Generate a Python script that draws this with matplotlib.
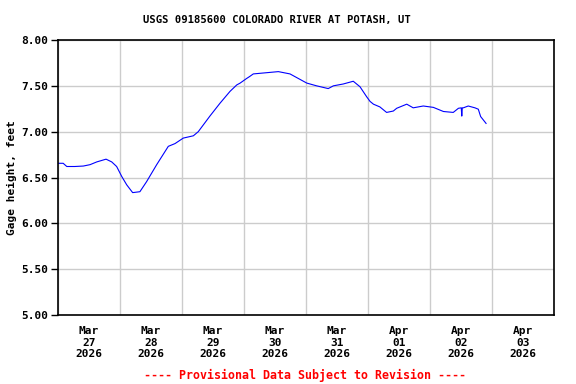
import numpy as np
import matplotlib
matplotlib.use("Agg")
import matplotlib.pyplot as plt
from matplotlib.ticker import FixedLocator, NullFormatter

# Gage height readings, hours after 2026-03-27 00:00
hours = [0.0, 2.0, 3.4, 6.5, 9.8, 12.4, 15.0, 18.6, 20.8, 22.7, 24.7, 26.6,
         28.9, 31.7, 34.3, 38.2, 42.7, 45.3, 48.5, 52.4, 54.3, 58.8, 62.7,
         66.6, 69.2, 70.5, 73.0, 74.1, 75.6, 79.5, 85.3, 89.8, 93.7, 96.3,
         100.1, 104.6, 106.6, 110.4, 114.3, 116.9, 119.5, 120.8, 122.1,
         124.6, 127.2, 129.8, 131.1, 135.0, 137.5, 141.4, 145.3, 149.2,
         153.0, 155.0, 156.1, 156.3, 156.5, 156.9, 158.8, 161.4, 162.7,
         163.6, 165.7]
gage_ft = [6.655, 6.655, 6.62, 6.62, 6.625, 6.64, 6.67, 6.70, 6.67, 6.62,
           6.51, 6.42, 6.335, 6.345, 6.455, 6.64, 6.84, 6.87, 6.93, 6.955,
           7.00, 7.17, 7.31, 7.44, 7.51, 7.53, 7.58, 7.60, 7.63, 7.64, 7.655,
           7.63, 7.57, 7.53, 7.50, 7.47, 7.50, 7.52, 7.55, 7.49, 7.38, 7.33,
           7.30, 7.27, 7.21, 7.225, 7.255, 7.30, 7.26, 7.28, 7.265, 7.22,
           7.21, 7.255, 7.26, 7.17, 7.26, 7.26, 7.28, 7.26, 7.245, 7.165,
           7.09]

day_labels = ["Mar\n27\n2026", "Mar\n28\n2026", "Mar\n29\n2026", "Mar\n30\n2026",
              "Mar\n31\n2026", "Apr\n01\n2026", "Apr\n02\n2026", "Apr\n03\n2026"]
y_ticks = [5.0, 5.5, 6.0, 6.5, 7.0, 7.5, 8.0]

mono = "DejaVu Sans Mono"
plt.rcParams["font.family"] = mono
plt.rcParams["font.weight"] = "bold"

fig = plt.figure(figsize=(5.76, 3.84), dpi=100)
ax = fig.add_axes([58 / 576, 1 - 315 / 384, 496 / 576, 275 / 384])

days = np.array(hours) / 24.0
ax.plot(days, gage_ft, color="#0000FF", linewidth=0.8)

ax.set_xlim(0, 8)
ax.set_ylim(5.0, 8.0)

# gridlines at midnight, labels at noon
ax.xaxis.set_major_locator(FixedLocator(np.arange(0, 9)))
ax.xaxis.set_major_formatter(NullFormatter())
ax.xaxis.set_minor_locator(FixedLocator(np.arange(8) + 0.5))
ax.set_xticklabels(day_labels, minor=True, fontsize=8, fontweight="bold")
ax.tick_params(axis="x", which="both", length=0)
ax.tick_params(axis="x", which="minor", pad=8)

ax.set_yticks(y_ticks)
ax.set_yticklabels([f"{v:.2f}" for v in y_ticks], fontsize=8, fontweight="bold")
ax.tick_params(axis="y", length=5, width=1, direction="out", pad=2)

ax.grid(True, which="major", color="#CCCCCC", linewidth=1)
ax.set_axisbelow(True)
for sp in ax.spines.values():
    sp.set_linewidth(1.2)
    sp.set_color("black")

ax.set_ylabel("Gage height, feet", fontsize=8, fontweight="bold", va="center")
ax.yaxis.set_label_coords(-(58 - 12) / 496, 0.5)

fig.text(277 / 576, 1 - 20 / 384, "USGS 09185600 COLORADO RIVER AT POTASH, UT",
         ha="center", va="center", fontsize=7.6, fontweight="bold")
fig.text(305 / 576, 1 - 375 / 384, "---- Provisional Data Subject to Revision ----",
         ha="center", va="center", fontsize=8.4, fontweight="bold", color="#FF0000")

fig.savefig("out.png", dpi=100)
